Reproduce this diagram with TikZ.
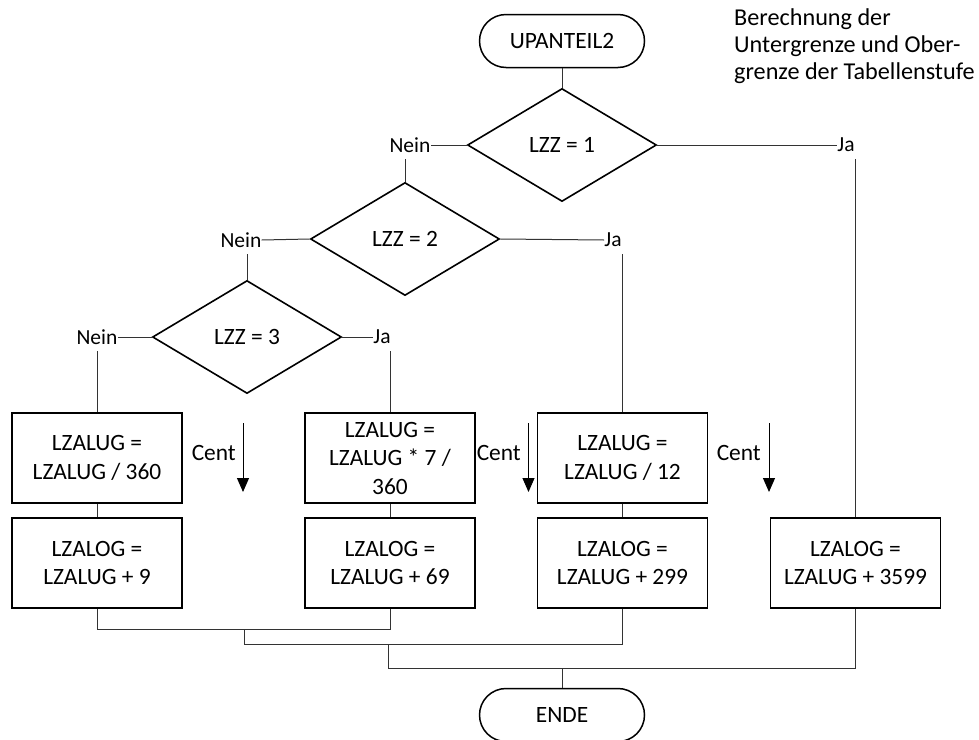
\documentclass[tikz,border=0pt]{standalone}
\usepackage{fontspec}
\setmainfont{Carlito}
\usetikzlibrary{shapes.geometric,shapes.misc,arrows.meta}
\begin{document}
\begin{tikzpicture}[x=1pt,y=-1pt,
 txt/.style={font=\fontsize{23.4}{28.5}\selectfont},
 term/.style={rounded rectangle, draw, line width=1.5pt, minimum width=165pt, minimum height=53pt, inner sep=0pt, txt},
 dec/.style={diamond, draw, line width=1.6pt, minimum width=189pt, minimum height=113pt, inner sep=0pt, txt},
 proc/.style={rectangle, draw, line width=1.8pt, minimum width=170pt, minimum height=90pt, inner sep=0pt, align=center, txt},
 lbl/.style={inner sep=0pt, minimum height=28pt, font=\fontsize{21.5}{25}\selectfont},
 conn/.style={draw=black!80, line width=1pt},
 centarrow/.style={line width=1pt, -{Triangle[width=12pt,length=14pt]}},
]
\useasboundingbox (0,0) rectangle (979,739);

% shapes
\node[term] (start) at (562,41) {UPANTEIL2};
\node[dec] (d1) at (562,145) {LZZ = 1};
\node[dec] (d2) at (405,239) {LZZ = 2};
\node[dec] (d3) at (247,337) {LZZ = 3};

\node[proc] (b1) at (97,458) {LZALUG =\\LZALUG / 360};
\node[proc] (b1b) at (97,563) {LZALOG =\\LZALUG + 9};
\node[proc] (b2) at (390,458) {LZALUG =\\LZALUG * 7 /\\360};
\node[proc] (b2b) at (390,563) {LZALOG =\\LZALUG + 69};
\node[proc] (b3) at (622.5,458) {LZALUG =\\LZALUG / 12};
\node[proc] (b3b) at (622.5,563) {LZALOG =\\LZALUG + 299};
\node[proc] (b4) at (855.5,563) {LZALOG =\\LZALUG + 3599};
\node[term] (ende) at (562,715) {ENDE};

% labels
\node[lbl] (n1) at (410,145) {Nein};
\node[lbl] (j1) at (846,145) {Ja};
\node[lbl] (n2) at (241,240) {Nein};
\node[lbl] (j2) at (613,240) {Ja};
\node[lbl] (n3) at (97,337) {Nein};
\node[lbl] (j3) at (382,337) {Ja};

\node[txt, anchor=east, inner sep=0pt] (c1) at (236,453) {Cent};
\node[txt, anchor=east, inner sep=0pt] (c2) at (521,453) {Cent};
\node[txt, anchor=east, inner sep=0pt] (c3) at (761,453) {Cent};

\node[anchor=north west, align=left, inner sep=0pt, font=\fontsize{24.2}{27}\selectfont] (note) at (734,8)
 {Berechnung der\\Untergrenze und Ober-\\grenze der Tabellenstufe};

% connectors
\draw[conn] (start.south) -- (d1.north);
\draw[conn] (d1.east) -- (j1.west);
\draw[conn] (j1.south -| b4.north) -- (b4.north);
\draw[conn] (d1.west) -- (n1.east);
\draw[conn] (n1.south -| d2.north) -- (d2.north);
\draw[conn] (d2.east) -- (j2.west);
\draw[conn] (j2.south -| b3.north) -- (b3.north);
\draw[conn] (d2.west) -- (n2.east);
\draw[conn] (n2.south -| d3.north) -- (d3.north);
\draw[conn] (d3.east) -- (j3.west);
\draw[conn] (j3.south -| b2.north) -- (b2.north);
\draw[conn] (d3.west) -- (n3.east);
\draw[conn] (n3.south -| b1.north) -- (b1.north);

\draw[conn] (b1) -- (b1b);
\draw[conn] (b2) -- (b2b);
\draw[conn] (b3) -- (b3b);

\coordinate (m1) at (244,629);
\coordinate (m2) at (388,644);
\coordinate (m3) at (562,668);
\draw[conn] (b1b.south) |- (m1) -| (b2b.south);
\draw[conn] (m1) |- (m2) -| (b3b.south);
\draw[conn] (m2) |- (m3) -| (b4.south);
\draw[conn] (m3) -- (ende.north);

% Cent arrows
\coordinate (a1s) at (243,423); \coordinate (a1e) at (243,492);
\coordinate (a2s) at (528.5,423); \coordinate (a2e) at (528.5,492);
\coordinate (a3s) at (769,423); \coordinate (a3e) at (769,492);
\draw[centarrow] (a1s) -- (a1e);
\draw[centarrow] (a2s) -- (a2e);
\draw[centarrow] (a3s) -- (a3e);
\end{tikzpicture}
\end{document}
